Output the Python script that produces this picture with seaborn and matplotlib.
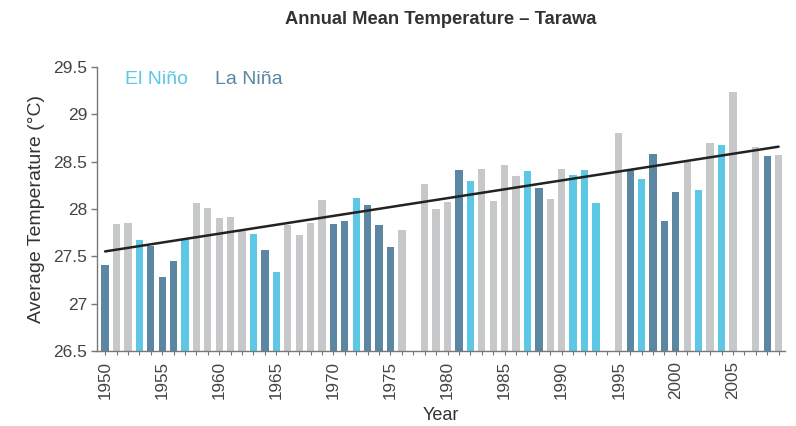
import numpy as np
import pandas as pd
import matplotlib
matplotlib.use("Agg")
import matplotlib.pyplot as plt
import seaborn as sns

# Annual mean temperature at Tarawa (°C); None marks years without a record
years = list(range(1950, 2010))
temps = [
    27.41, 27.84, 27.85, 27.67, 27.61, 27.28, 27.45, 27.68, 28.06, 28.01,
    27.90, 27.92, 27.77, 27.74, 27.57, 27.33, 27.83, 27.72, 27.85, 28.09,
    27.84, 27.87, 28.12, 28.04, 27.83, 27.60, 27.78, None, 28.26, 28.00,
    28.07, 28.41, 28.29, 28.42, 28.08, 28.46, 28.35, 28.40, 28.22, 28.11,
    28.42, 28.36, 28.41, 28.06, None, 28.80, 28.41, 28.32, 28.58, 27.87,
    28.18, 28.50, 28.20, 28.70, 28.68, 29.24, None, 28.65, 28.56, 28.57,
]
# ENSO phase per year: N = neutral, E = El Niño, L = La Niña, - = no record
phases = list(
    "LNNELLLENN"
    "NNNELENNNN"
    "LLELLLN-NN"
    "NLENNNNELN"
    "NEEE-NLELL"
    "LNENEN-NLN"
)
phase_names = {"N": "Neutral", "E": "El Niño", "L": "La Niña"}
palette = {"Neutral": "#c7c8ca", "El Niño": "#5cc8e5", "La Niña": "#5c87a3"}

yticks = [26.5, 27, 27.5, 28, 28.5, 29, 29.5]
ytick_labels = ["26.5", "27", "27.5", "28", "28.5", "29", "29.5"]

rows = [
    (str(y), t, phase_names[p])
    for y, t, p in zip(years, temps, phases)
    if t is not None
]
df = pd.DataFrame(rows, columns=["Year", "Temp", "Phase"])
order = [str(y) for y in years]

sns.set_style("white")
plt.rcParams["font.family"] = ["Liberation Sans", "DejaVu Sans"]

fig = plt.figure(figsize=(7.96, 4.26), dpi=100)
ax = fig.add_axes([0.122, 0.176, 0.864, 0.667])

sns.barplot(
    data=df, x="Year", y="Temp", hue="Phase", order=order,
    palette=palette, dodge=False, width=0.64, ax=ax,
    legend=False, saturation=1,
)
# bars start at the axis floor rather than zero
for patch in ax.patches:
    h = patch.get_height()
    patch.set_y(26.5)
    patch.set_height(h - 26.5)
    patch.set_edgecolor("none")

# linear trend through the recorded years
yr = np.array([y for y, t in zip(years, temps) if t is not None], dtype=float)
tv = np.array([t for t in temps if t is not None], dtype=float)
slope, icpt = np.polyfit(yr, tv, 1)
xs = np.array([years[0], years[-1]], dtype=float)
ax.plot(xs - years[0], slope * xs + icpt, color="#222222", lw=1.8,
        solid_capstyle="round", zorder=5)

ax.set_ylim(26.5, 29.5)
ax.set_xlim(-0.7, len(years) - 0.45)
ax.set_yticks(yticks)
ax.set_yticklabels(ytick_labels)
ax.set_xticks(range(len(years)))
ax.set_xticklabels([str(y) if y % 5 == 0 else "" for y in years],
                   rotation=90)

for side in ("top", "right"):
    ax.spines[side].set_visible(False)
for side in ("left", "bottom"):
    ax.spines[side].set_color("#777777")
    ax.spines[side].set_linewidth(1.0)

ax.tick_params(axis="y", which="both", left=True, length=4, width=1,
               color="#777777", labelsize=12.5, labelcolor="#444444", pad=3)
ax.tick_params(axis="x", which="both", bottom=True, length=3, width=0.8,
               color="#777777", labelsize=12.3, labelcolor="#444444", pad=4)

ax.set_xlabel("Year", fontsize=13, color="#333333", labelpad=6)
ax.set_ylabel("Average Temperature (°C)", fontsize=14, color="#333333",
              labelpad=6)
ax.set_title("Annual Mean Temperature – Tarawa", fontsize=13.2,
             fontweight="bold", color="#333333", pad=31)

ax.text(0.040, 0.985, "El Niño", transform=ax.transAxes, fontsize=14,
        color=palette["El Niño"], va="top", ha="left")
ax.text(0.171, 0.985, "La Niña", transform=ax.transAxes, fontsize=14,
        color=palette["La Niña"], va="top", ha="left")

fig.savefig("out.png", dpi=100)
